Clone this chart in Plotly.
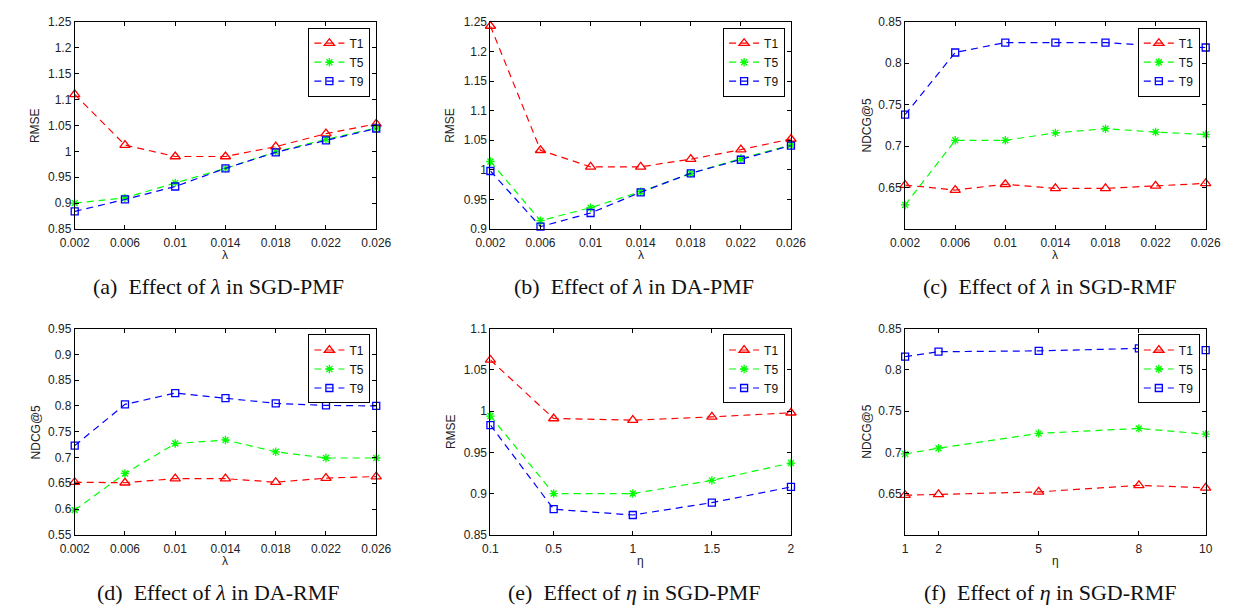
import plotly.graph_objects as go

# ---------------- data ----------------
lam = [0.002, 0.006, 0.01, 0.014, 0.018, 0.022, 0.026]
lam_labels = ["0.002", "0.006", "0.01", "0.014", "0.018", "0.022", "0.026"]
eta_e = [0.1, 0.5, 1, 1.5, 2]
eta_e_labels = ["0.1", "0.5", "1", "1.5", "2"]
eta_f = [1, 2, 5, 8, 10]
eta_f_labels = ["1", "2", "5", "8", "10"]
series_names = ["T1", "T5", "T9"]

a_T1 = [1.110, 1.012, 0.990, 0.990, 1.009, 1.034, 1.053]
a_T5 = [0.900, 0.910, 0.939, 0.967, 0.999, 1.023, 1.045]
a_T9 = [0.884, 0.907, 0.932, 0.967, 0.998, 1.021, 1.044]

b_T1 = [1.243, 1.033, 1.005, 1.005, 1.018, 1.034, 1.052]
b_T5 = [1.014, 0.914, 0.936, 0.963, 0.994, 1.019, 1.042]
b_T9 = [0.998, 0.904, 0.927, 0.962, 0.994, 1.017, 1.041]

c_T1 = [0.653, 0.647, 0.654, 0.649, 0.649, 0.652, 0.655]
c_T5 = [0.629, 0.707, 0.707, 0.716, 0.721, 0.717, 0.714]
c_T9 = [0.738, 0.813, 0.825, 0.825, 0.825, 0.821, 0.819]

d_T1 = [0.652, 0.651, 0.659, 0.659, 0.652, 0.660, 0.663]
d_T5 = [0.598, 0.669, 0.727, 0.734, 0.711, 0.699, 0.699]
d_T9 = [0.723, 0.803, 0.825, 0.815, 0.805, 0.801, 0.800]

e_T1 = [1.062, 0.991, 0.989, 0.993, 0.998]
e_T5 = [0.994, 0.900, 0.900, 0.916, 0.937]
e_T9 = [0.983, 0.881, 0.874, 0.889, 0.908]

f_T1 = [0.648, 0.649, 0.652, 0.660, 0.657]
f_T5 = [0.698, 0.705, 0.723, 0.729, 0.722]
f_T9 = [0.816, 0.822, 0.823, 0.826, 0.824]

rmse_a_ticks = [0.85, 0.9, 0.95, 1, 1.05, 1.1, 1.15, 1.2, 1.25]
rmse_a_labels = ["0.85", "0.9", "0.95", "1", "1.05", "1.1", "1.15", "1.2", "1.25"]
rmse_b_ticks = [0.9, 0.95, 1, 1.05, 1.1, 1.15, 1.2, 1.25]
rmse_b_labels = ["0.9", "0.95", "1", "1.05", "1.1", "1.15", "1.2", "1.25"]
ndcg_c_ticks = [0.65, 0.7, 0.75, 0.8, 0.85]
ndcg_c_labels = ["0.65", "0.7", "0.75", "0.8", "0.85"]
ndcg_d_ticks = [0.55, 0.6, 0.65, 0.7, 0.75, 0.8, 0.85, 0.9, 0.95]
ndcg_d_labels = ["0.55", "0.6", "0.65", "0.7", "0.75", "0.8", "0.85", "0.9", "0.95"]
rmse_e_ticks = [0.85, 0.9, 0.95, 1, 1.05, 1.1]
rmse_e_labels = ["0.85", "0.9", "0.95", "1", "1.05", "1.1"]

captions = [
    "(a)  Effect of <i>λ</i> in SGD-PMF",
    "(b)  Effect of <i>λ</i> in DA-PMF",
    "(c)  Effect of <i>λ</i> in SGD-RMF",
    "(d)  Effect of <i>λ</i> in DA-RMF",
    "(e)  Effect of <i>η</i> in SGD-PMF",
    "(f)  Effect of <i>η</i> in SGD-RMF",
]
fig_caption = "Fig. 3.    Effect of <i>λ</i> and <i>η</i> in various online algorithms"

# ---------------- layout geometry (pixels) ----------------
W, H = 1240, 610
def px(x):
    return x / W
def py(y):
    return 1 - y / H

col_x = [(53, 362), (479, 787), (904, 1212)]
row_y = [(7, 219), (321, 532)]

panels = [
    dict(x=lam, xt=lam, xl=lam_labels, xr=[0.002, 0.026], ys=[a_T1, a_T5, a_T9],
         yr=[0.85, 1.25], yt=rmse_a_ticks, yl=rmse_a_labels, ytitle="RMSE", xtitle="λ"),
    dict(x=lam, xt=lam, xl=lam_labels, xr=[0.002, 0.026], ys=[b_T1, b_T5, b_T9],
         yr=[0.9, 1.25], yt=rmse_b_ticks, yl=rmse_b_labels, ytitle="RMSE", xtitle="λ"),
    dict(x=lam, xt=lam, xl=lam_labels, xr=[0.002, 0.026], ys=[c_T1, c_T5, c_T9],
         yr=[0.6, 0.85], yt=ndcg_c_ticks, yl=ndcg_c_labels, ytitle="NDCG@5", xtitle="λ"),
    dict(x=lam, xt=lam, xl=lam_labels, xr=[0.002, 0.026], ys=[d_T1, d_T5, d_T9],
         yr=[0.55, 0.95], yt=ndcg_d_ticks, yl=ndcg_d_labels, ytitle="NDCG@5", xtitle="λ"),
    dict(x=eta_e, xt=eta_e, xl=eta_e_labels, xr=[0.1, 2], ys=[e_T1, e_T5, e_T9],
         yr=[0.85, 1.1], yt=rmse_e_ticks, yl=rmse_e_labels, ytitle="RMSE", xtitle="η"),
    dict(x=eta_f, xt=eta_f, xl=eta_f_labels, xr=[1, 10], ys=[f_T1, f_T5, f_T9],
         yr=[0.6, 0.85], yt=ndcg_c_ticks, yl=ndcg_c_labels, ytitle="NDCG@5", xtitle="η"),
]

styles = [
    dict(color="#FF0000", symbol="triangle-up-open", size=9),
    dict(color="#00FF00", symbol="asterisk-open", size=7),
    dict(color="#0000FF", symbol="square-open", size=7),
]

TICK_FONT = dict(family="Liberation Sans, Arial, sans-serif", size=12, color="#222222")
CAP_FONT = dict(family="Liberation Serif, Times New Roman, serif", size=22, color="#111111")

fig = go.Figure()
layout = dict(width=W, height=H, margin=dict(l=0, r=0, t=0, b=0),
              paper_bgcolor="white", plot_bgcolor="white", annotations=[])

cap_x = [200, 626, 1052]
cap_y = [278, 591]
ytitle_x = [13, 438, 865]
xtitle_y = [246, 559]

for i, p in enumerate(panels):
    r, c = divmod(i, 3)
    n = i + 1
    xa = "x" if n == 1 else f"x{n}"
    ya = "y" if n == 1 else f"y{n}"
    lg = "legend" if n == 1 else f"legend{n}"
    for s, yv, st in zip(series_names, p["ys"], styles):
        fig.add_trace(go.Scatter(
            x=p["x"], y=yv, name=s, mode="lines+markers",
            xaxis=xa, yaxis=ya, legend=lg, cliponaxis=False,
            line=dict(color=st["color"], width=1.2, dash="7px,5px"),
            marker=dict(symbol=st["symbol"], size=st["size"], color=st["color"],
                        line=dict(color=st["color"], width=1.3)),
        ))
    x0, x1 = col_x[c]
    y0, y1 = row_y[r]
    axis_common = dict(showline=True, linecolor="black", linewidth=1, mirror="ticks",
                       ticks="inside", ticklen=4, tickwidth=1, tickcolor="black",
                       showgrid=False, zeroline=False, tickfont=TICK_FONT, fixedrange=True)
    layout["xaxis" if n == 1 else f"xaxis{n}"] = dict(
        domain=[px(x0), px(x1)], anchor=ya, range=p["xr"], ticklabelstandoff=3,
        tickmode="array", tickvals=p["xt"], ticktext=p["xl"], **axis_common)
    layout["yaxis" if n == 1 else f"yaxis{n}"] = dict(
        domain=[py(y1), py(y0)], anchor=xa, range=p["yr"],
        tickmode="array", tickvals=p["yt"], ticktext=p["yl"], **axis_common)
    layout[lg] = dict(
        x=px(x1 - 6), y=py(y0 + 6), xanchor="right", yanchor="top",
        xref="paper", yref="paper",
        bgcolor="white", bordercolor="black", borderwidth=1,
        font=dict(family="Liberation Sans, Arial, sans-serif", size=12, color="#111111"),
        tracegroupgap=0, itemwidth=30, itemclick=False, itemdoubleclick=False,
    )
    # axis titles
    layout["annotations"].append(dict(
        text=p["ytitle"], xref="paper", yref="paper", x=px(ytitle_x[c]), y=py((y0 + y1) / 2),
        xanchor="center", yanchor="middle", textangle=-90, showarrow=False,
        font=dict(family="Liberation Sans, Arial, sans-serif", size=12, color="#222222")))
    layout["annotations"].append(dict(
        text=p["xtitle"], xref="paper", yref="paper", x=px((x0 + x1) / 2), y=py(xtitle_y[r]),
        xanchor="center", yanchor="middle", showarrow=False,
        font=dict(family="Liberation Sans, Arial, sans-serif", size=12, color="#222222")))
    # sub captions
    layout["annotations"].append(dict(
        text=captions[i], xref="paper", yref="paper", x=px(cap_x[c]), y=py(cap_y[r]),
        xanchor="center", yanchor="middle", showarrow=False, font=CAP_FONT))

layout["annotations"].append(dict(
    text=fig_caption, xref="paper", yref="paper", x=px(618), y=py(617),
    xanchor="center", yanchor="middle", showarrow=False, font=CAP_FONT))

layout["showlegend"] = True
fig.update_layout(**layout)
fig.write_html("out.html")
